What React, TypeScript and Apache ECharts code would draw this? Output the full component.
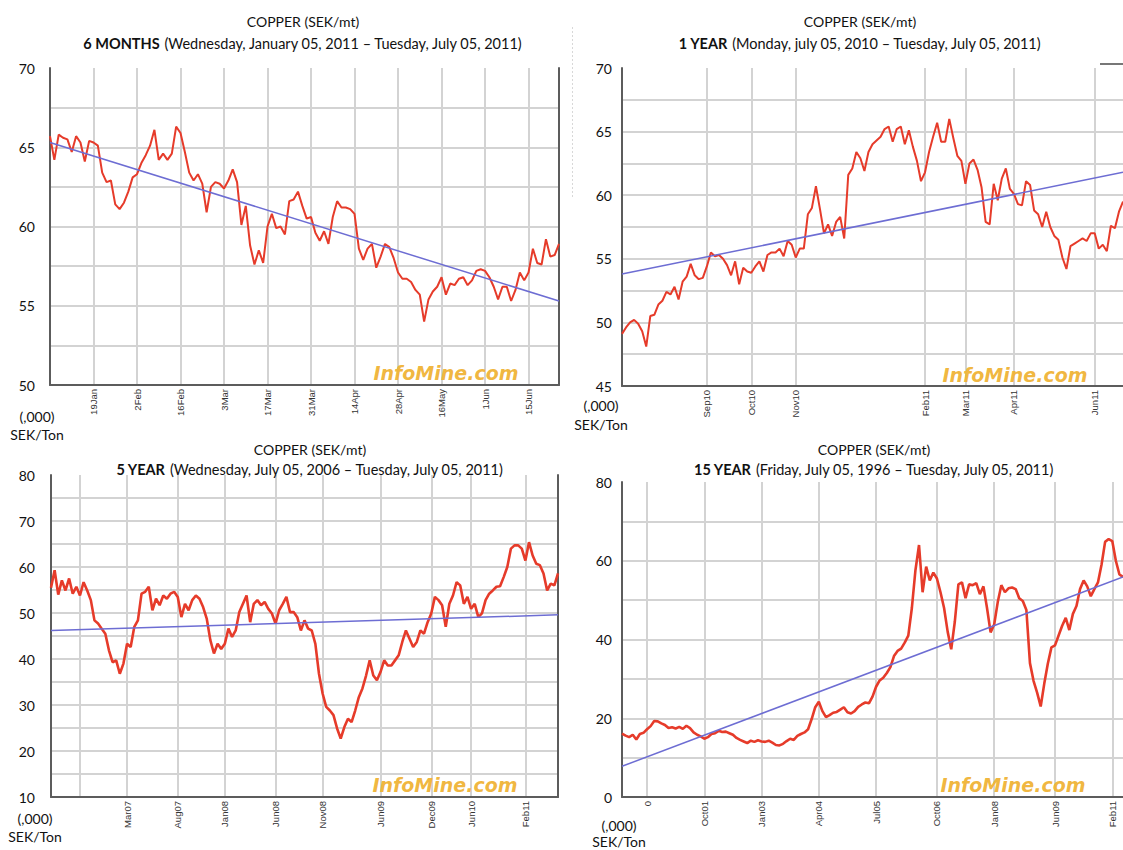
import React, { useEffect, useRef } from "react";
import * as echarts from "echarts";

// ---------- DATA ----------
// 6 months (trading days, Jan 05 2011 ...)
const p1Values = [65.7,64.2,65.8,65.6,65.5,64.7,65.7,65.3,64.1,65.4,65.3,65.1,63.4,62.8,62.9,61.4,61.1,61.5,62.2,63.1,63.3,64.0,64.5,65.1,66.1,64.2,64.6,64.2,64.6,66.3,65.9,64.7,63.4,62.9,63.3,62.7,60.9,62.5,62.8,62.7,62.4,62.9,63.6,62.8,60.1,61.3,58.8,57.6,58.5,57.7,60.0,60.8,59.9,60.0,59.5,61.6,61.7,62.2,61.3,60.5,60.6,59.6,59.1,59.7,58.9,60.6,61.6,61.2,61.2,61.1,60.8,58.6,57.9,58.6,58.9,57.4,58.1,58.9,58.7,58.0,57.1,56.7,56.7,56.5,56.0,55.7,54.0,55.4,55.9,56.2,56.8,55.7,56.4,56.3,56.7,56.8,56.3,56.6,57.2,57.3,57.2,56.8,56.2,55.4,56.2,56.2,55.3,56.0,57.1,56.6,57.1,58.6,57.7,57.6,59.2,58.1,58.2,58.9];
const p1Trend = [65.3, 55.3];
const p1TickIdx = [10, 20, 30, 40, 50, 60, 70, 80, 90, 100, 110];
const p1TickLbl = ["19Jan", "2Feb", "16Feb", "3Mar", "17Mar", "31Mar", "14Apr", "28Apr", "16May", "1Jun", "15Jun"];

// 1 year
const p2Values = [49.1,49.6,50.0,50.2,49.9,49.3,48.1,50.5,50.6,51.4,51.7,52.4,52.2,52.8,51.8,53.2,53.6,54.6,53.7,53.4,53.5,54.4,55.5,55.2,55.3,55.0,54.5,53.7,54.8,53.0,54.3,54.0,53.9,54.4,54.8,54.0,55.3,55.5,55.5,55.8,55.2,56.4,56.1,55.1,55.8,55.8,58.5,59.0,60.7,58.9,57.0,57.7,56.8,57.9,58.3,56.6,61.6,62.1,63.4,62.9,61.9,63.4,64.0,64.3,64.6,65.2,65.4,64.2,65.2,65.4,64.0,65.1,63.8,62.7,61.1,61.8,63.4,64.6,65.7,64.2,64.2,66.0,64.5,63.1,62.7,60.9,62.5,62.8,62.0,60.6,57.9,57.7,60.9,59.6,61.3,62.1,60.5,60.1,59.3,59.2,61.1,60.8,58.8,58.5,57.5,58.7,57.5,56.8,56.5,55.1,54.2,56.0,56.2,56.4,56.6,56.4,57.0,57.0,55.8,56.1,55.6,57.6,57.4,58.7,59.5];
const p2Trend = [53.8, 61.8];
const p2TickIdx = [21, 32, 43, 75, 85, 97, 117];
const p2TickLbl = ["Sep10", "Oct10", "Nov10", "Feb11", "Mar11", "Apr11", "Jun11"];

// 5 years
const p3Values = [55.5,59.3,54.0,57.1,54.9,57.5,54.2,55.7,53.8,56.7,54.9,52.8,48.4,47.7,46.6,45.5,41.9,39.3,39.7,36.8,39.0,43.3,42.6,47.0,48.4,54.2,54.6,55.7,50.6,53.1,51.7,53.8,53.1,54.2,54.6,53.5,49.1,52.0,50.6,52.8,53.8,53.1,51.3,48.8,44.1,41.2,43.3,42.2,43.3,46.6,44.8,46.2,50.2,52.0,53.8,48.0,52.0,52.8,51.7,52.4,50.9,49.9,47.7,50.6,52.0,53.5,50.2,50.2,49.1,46.2,48.4,46.6,46.2,43.3,36.8,32.5,29.6,28.8,27.8,24.9,22.7,25.2,27.0,26.3,28.8,31.7,33.6,36.4,39.7,36.4,35.4,37.2,39.7,38.6,38.6,39.7,40.8,43.7,46.2,44.4,42.6,43.7,46.2,45.5,48.0,49.9,53.5,52.8,51.7,47.0,52.0,53.8,56.7,56.0,52.0,53.5,50.9,52.0,49.1,49.9,52.8,54.2,54.9,55.7,55.8,57.8,60.0,64.0,64.7,64.7,64.0,61.4,65.4,62.5,60.7,60.4,58.6,54.9,56.4,56.0,58.6];
const p3Trend = [46.2, 49.6];
const p3TickIdx = [8, 21, 35, 48, 62, 75, 91, 105, 116, 131];
const p3TickLbl = ["", "Mar07", "Aug07", "Jan08", "Jun08", "Nov08", "Jun09", "Dec09", "Jun10", "Feb11"];

// 15 years
const p4Values = [16.1,15.6,15.2,15.8,14.6,16.0,16.3,17.2,18.0,19.3,19.2,18.7,18.3,17.5,17.7,17.4,17.8,17.3,18.1,17.5,16.4,15.8,15.4,14.8,15.2,16.0,16.2,16.8,16.5,16.6,16.2,15.8,15.0,14.5,14.1,13.7,14.3,14.0,14.4,14.1,14.0,14.3,13.8,13.2,13.1,13.5,14.2,14.8,14.5,15.5,16.0,16.4,17.2,19.8,22.8,24.2,21.8,20.3,20.8,21.4,21.6,22.2,22.8,21.5,21.2,21.8,22.9,23.5,24.0,23.8,25.5,28.0,29.6,30.3,31.5,33.0,35.8,37.1,37.7,39.2,41.0,48.0,57.6,64.0,52.0,58.5,55.0,57.0,55.5,52.0,48.0,42.0,37.5,44.5,54.0,54.5,50.5,54.0,53.8,54.3,51.5,53.5,48.0,41.8,43.8,49.5,53.8,52.0,53.0,53.2,52.8,50.5,49.8,47.5,34.0,29.5,26.5,23.0,28.8,33.9,38.0,38.5,41.0,43.5,45.5,42.4,46.5,48.5,52.8,55.0,53.5,51.0,52.8,54.5,59.0,64.8,65.5,65.0,60.0,56.5,55.9];
const p4Trend = [7.8, 55.9];
const p4TickIdx = [7, 23, 39, 55, 71, 88, 104, 121, 137];
const p4TickLbl = ["0", "Oct01", "Jan03", "Apr04", "Jul05", "Oct06", "Jan08", "Jun09", "Feb11"];

const titleMain = "COPPER (SEK/mt)";
const subBold = ["6 MONTHS", "1 YEAR", "5 YEAR", "15 YEAR"];
const subRest = [
  " (Wednesday, January 05, 2011 \u2013 Tuesday, July 05, 2011)",
  " (Monday, july 05, 2010 \u2013 Tuesday, July 05, 2011)",
  " (Wednesday, July 05, 2006 \u2013 Tuesday, July 05, 2011)",
  " (Friday, July 05, 1996 \u2013 Tuesday, July 05, 2011)",
];
const unitTop = "(,000)";
const unitBottom = "SEK/Ton";
const watermark = "InfoMine.com";

// ---------- STYLE ----------
const FONT = "Lato, 'Noto Sans', sans-serif";
const GRIDC = "#d3d3d3";
const AXISC = "#5c5c5c";
const RED = "#e63b2a";
const BLUE = "#6d6dd3";

function xAxisFor(gridIndex: number, n: number, idx: number[], lbl: string[]) {
  const map = new Map<number, string>();
  idx.forEach((k, j) => map.set(k, lbl[j]));
  const show = (i: number) => map.has(i);
  return {
    type: "category",
    gridIndex,
    data: Array.from({ length: n }, (_, i) => String(i)),
    boundaryGap: false,
    axisLine: { onZero: false, lineStyle: { color: AXISC, width: 2 } },
    axisTick: { show: false },
    axisLabel: {
      interval: (i: number) => show(i),
      rotate: 90,
      margin: 4,
      fontSize: 9.5,
      color: "#333",
      fontFamily: "'Liberation Sans', Arial, sans-serif",
      formatter: (v: string) => map.get(Number(v)) ?? "",
    },
    splitLine: { show: true, interval: (i: number) => show(i), lineStyle: { color: GRIDC, width: 2 } },
  };
}

function yAxisFor(gridIndex: number, min: number, max: number, interval: number, labelStep: number, margin: number) {
  return {
    type: "value",
    gridIndex,
    min,
    max,
    interval,
    axisLine: { show: true, lineStyle: { color: AXISC, width: 2 } },
    axisTick: { show: false },
    axisLabel: {
      margin,
      fontSize: 14,
      color: "#111",
      fontFamily: FONT,
      formatter: (v: number) => (Math.abs(v % labelStep) < 1e-9 ? String(v) : ""),
    },
    splitLine: { show: true, showMaxLine: false, lineStyle: { color: GRIDC, width: 2 } },
  };
}

function rightBorder(gridIndex: number, min: number, max: number) {
  return {
    type: "value",
    gridIndex,
    position: "right",
    min,
    max,
    axisLine: { show: true, lineStyle: { color: AXISC, width: 2 } },
    axisTick: { show: false },
    axisLabel: { show: false },
    splitLine: { show: false },
  };
}

function seriesFor(k: number, yIdx: number, values: number[], trend: number[], redWidth: number) {
  return [
    {
      type: "line",
      xAxisIndex: k,
      yAxisIndex: yIdx,
      data: values,
      symbol: "none",
      showSymbol: false,
      lineStyle: { color: RED, width: redWidth },
      z: 3,
    },
    {
      type: "line",
      xAxisIndex: k,
      yAxisIndex: yIdx,
      data: [
        [0, trend[0]],
        [values.length - 1, trend[1]],
      ],
      symbol: "none",
      showSymbol: false,
      lineStyle: { color: BLUE, width: 1.5 },
      z: 4,
    },
  ];
}

function textEl(x: number, y: number, text: string, size: number, extra: any = {}) {
  return {
    type: "text",
    x,
    y,
    z: 10,
    style: {
      text,
      fontSize: size,
      fontFamily: FONT,
      fill: "#111",
      align: "center",
      textAlign: "center",
      verticalAlign: "middle",
      textVerticalAlign: "middle",
      ...extra,
    },
  };
}

function titleEls(k: number, cx: number, y1: number, y2: number) {
  return [
    textEl(cx, y1, titleMain, 14),
    textEl(cx, y2, `{b|${subBold[k]}}${subRest[k]}`, 14.5, {
      rich: { b: { fontWeight: "bold", fontSize: 14.5, fontFamily: FONT, fill: "#111" } },
    }),
  ];
}

function markEl(cx: number, cy: number) {
  return {
    type: "text",
    x: cx,
    y: cy,
    z: 10,
    style: {
      text: watermark,
      fontSize: 19,
      fontWeight: "bold",
      fontStyle: "italic",
      fontFamily: "'DejaVu Sans', sans-serif",
      fill: "#f0b335",
      opacity: 0.95,
      align: "center",
      textAlign: "center",
      verticalAlign: "middle",
      textVerticalAlign: "middle",
    },
  };
}

function unitEls(cx: number, y1: number, y2: number) {
  return [textEl(cx, y1, unitTop, 14), textEl(cx, y2, unitBottom, 14)];
}

export default function App() {
  const ref = useRef<HTMLDivElement>(null);
  useEffect(() => {
    if (!ref.current) return;
    const chart = echarts.init(ref.current, null, { renderer: "svg" });
    const option: any = {
      animation: false,
      backgroundColor: "#ffffff",
      grid: [
        { left: 50, top: 68, width: 509, height: 317 },
        { left: 622, top: 68, width: 501, height: 318 },
        { left: 51, top: 475, width: 507, height: 322 },
        { left: 622, top: 482, width: 501, height: 315 },
      ],
      xAxis: [
        xAxisFor(0, p1Values.length, p1TickIdx, p1TickLbl),
        xAxisFor(1, p2Values.length, p2TickIdx, p2TickLbl),
        xAxisFor(2, p3Values.length, p3TickIdx, p3TickLbl),
        xAxisFor(3, p4Values.length, p4TickIdx, p4TickLbl),
      ],
      yAxis: [
        yAxisFor(0, 50, 70, 2.5, 5, 15),
        yAxisFor(1, 45, 70, 2.5, 5, 10),
        yAxisFor(2, 10, 80, 5, 10, 16),
        yAxisFor(3, 0, 80, 10, 20, 10),
        rightBorder(0, 50, 70),
        rightBorder(2, 10, 80),
      ],
      series: [
        ...seriesFor(0, 0, p1Values, p1Trend, 2),
        ...seriesFor(1, 1, p2Values, p2Trend, 2),
        ...seriesFor(2, 2, p3Values, p3Trend, 2.6),
        ...seriesFor(3, 3, p4Values, p4Trend, 2.6),
      ],
      graphic: [
        ...titleEls(0, 303, 21, 43),
        ...titleEls(1, 860, 21, 43),
        ...titleEls(2, 310, 449, 469),
        ...titleEls(3, 874, 449, 469),
        ...unitEls(37, 416, 434),
        ...unitEls(601, 405, 424),
        ...unitEls(35, 818, 836),
        ...unitEls(619, 825, 841),
        markEl(446, 373),
        markEl(1015, 375),
        markEl(445, 785),
        markEl(1013, 785),
        {
          type: "line",
          z: 1,
          shape: { x1: 572.5, y1: 27, x2: 572.5, y2: 197 },
          style: { stroke: "#d8d8d8", lineWidth: 1, lineDash: [2, 2] },
        },
        {
          type: "line",
          z: 10,
          shape: { x1: 1100, y1: 64, x2: 1123, y2: 64 },
          style: { stroke: "#777", lineWidth: 2 },
        },
      ],
    };
    chart.setOption(option);
    return () => chart.dispose();
  }, []);
  return (
    <div
      ref={ref}
      style={{ position: "fixed", left: 0, top: 0, width: 1123, height: 850, background: "#fff" }}
    />
  );
}
